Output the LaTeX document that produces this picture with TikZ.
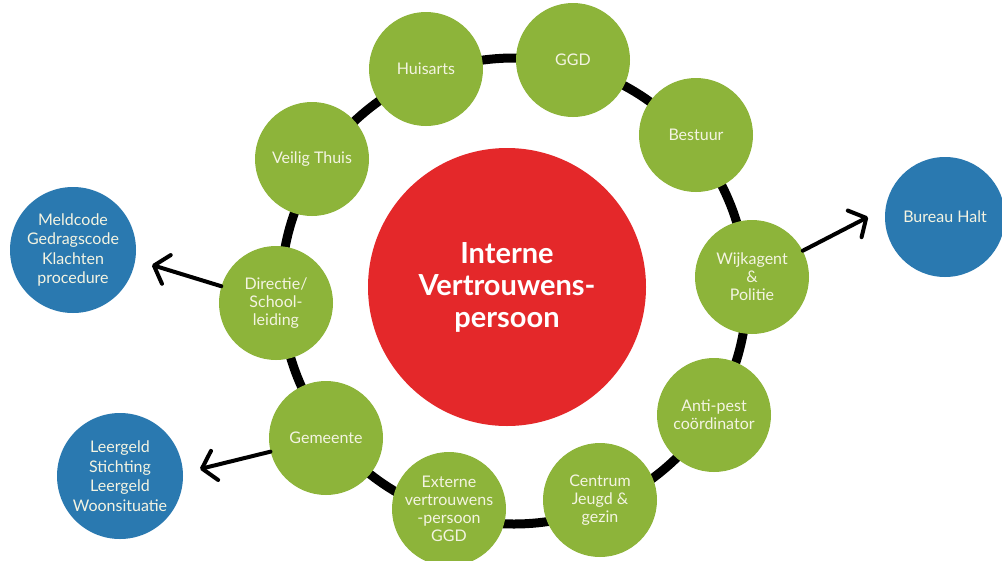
\documentclass[tikz,border=0pt]{standalone}
\usepackage{fontspec}
\setmainfont{Lato}
\usetikzlibrary{arrows.meta}
\definecolor{gr}{RGB}{141,180,58}
\definecolor{rd}{RGB}{228,40,42}
\definecolor{bl}{RGB}{42,121,176}
\definecolor{txt}{RGB}{244,244,226}
\tikzset{
  green/.style={circle,fill=gr,draw=none,minimum size=114pt,inner sep=0pt,align=center,text=txt,font=\fontsize{16}{18}\selectfont},
  blue/.style={circle,fill=bl,draw=none,minimum size=126pt,inner sep=0pt,align=center,text=txt,font=\fontsize{16}{19.5}\selectfont},
  arr/.style={line width=4pt,-{Straight Barb[length=13pt,width=30pt,line width=4pt,round]},line cap=round}
}
\begin{document}
\begin{tikzpicture}[x=1pt,y=-1pt]
\clip (0,0) rectangle (1002,560);
\useasboundingbox (0,0) rectangle (1002,560);
\fill[white] (0,0) rectangle (1002,560);
\coordinate (ringc) at (514,291);
\draw[line width=9pt] (ringc) circle[radius=233pt];
\node[circle,fill=rd,minimum size=278pt,inner sep=0pt,align=center,text=white,font=\fontsize{29}{32}\selectfont\bfseries] (ivp) at (507,287) {Interne\\Vertrouwens-\\persoon};
\node[green] (huis) at (426,69) {Huisarts};
\node[green] (ggd) at (573,60) {GGD};
\node[green] (best) at (696,135) {Bestuur};
\node[green] (veil) at (312,159) {Veilig Thuis};
\node[green] (wijk) at (752,277) {Wijkagent\\\&\\Politie};
\node[green] (dir) at (276,303) {Directie/\\School-\\leiding};
\node[green] (anti) at (714,415) {\fontsize{16}{14}\selectfont Anti-pest\\coördinator};
\node[green] (gem) at (326,438) {Gemeente};
\node[green] (cjg) at (600,500) {\fontsize{16}{14}\selectfont Centrum\\Jeugd \&\\gezin};
\node[green] (ext) at (449,509) {Externe\\vertrouwens\\-persoon\\GGD};
\node[blue] (meld) at (73,250) {Meldcode\\Gedragscode\\Klachten\\procedure};
\node[blue] (leer) at (120,476) {Leergeld\\Stichting\\Leergeld\\Woonsituatie};
\node[blue,minimum size=120pt] (halt) at (945,217) {Bureau Halt};
\coordinate (t1) at (152,265);
\coordinate (t2) at (200,469);
\coordinate (t3) at (868,217);
\draw[arr] (dir) -- (t1);
\draw[arr] (gem) -- (t2);
\draw[arr] (wijk) -- (t3);
\end{tikzpicture}
\end{document}
